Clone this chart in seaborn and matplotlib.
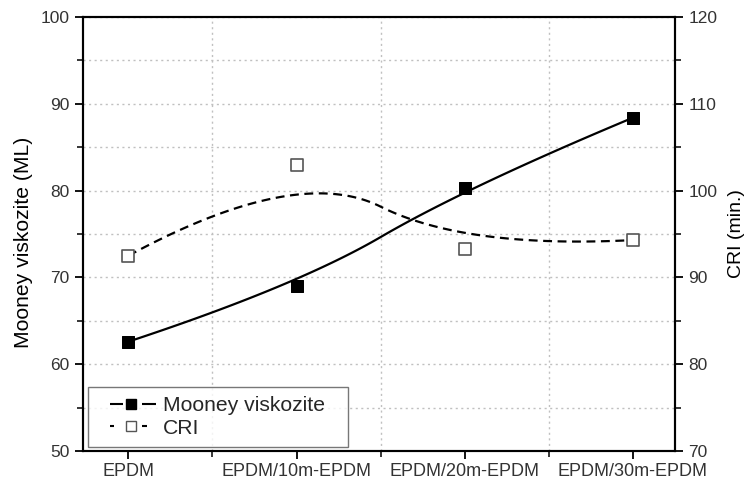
import numpy as np
import pandas as pd
import matplotlib
matplotlib.use("Agg")
import matplotlib.pyplot as plt
from matplotlib.lines import Line2D
from matplotlib.legend_handler import HandlerBase
from matplotlib.ticker import MultipleLocator, FixedLocator
import seaborn as sns

categories = ["EPDM", "EPDM/10m-EPDM", "EPDM/20m-EPDM", "EPDM/30m-EPDM"]
mooney = [62.6, 69.0, 80.3, 88.4]
cri = [92.5, 103.0, 93.3, 94.3]

sns.set_theme(style="white")
plt.rcParams["font.family"] = ["Liberation Sans", "DejaVu Sans"]


def bspline2(xs, ys, n=60):
    """Clamped quadratic B-spline using the data points as control points."""
    P = np.column_stack([xs, ys]).astype(float)
    m = len(P)
    out = []
    for k in range(1, m - 1):
        a = P[0] if k == 1 else (P[k - 1] + P[k]) / 2
        b = P[k]
        c = P[-1] if k == m - 2 else (P[k] + P[k + 1]) / 2
        t = np.linspace(0, 1, n)[:, None]
        out.append((1 - t) ** 2 * a + 2 * t * (1 - t) * b + t ** 2 * c)
    return np.vstack(out)


class SegHandler(HandlerBase):
    def __init__(self, segs, mx, mfc, mec, ms):
        super().__init__()
        self.segs, self.mx, self.mfc, self.mec, self.ms = segs, mx, mfc, mec, ms

    def create_artists(self, legend, orig_handle, xdescent, ydescent, width,
                       height, fontsize, trans):
        y = height / 2 - ydescent
        arts = []
        for a, b in self.segs:
            ln = Line2D([a * width - xdescent, b * width - xdescent], [y, y],
                        color="black", lw=1.5, solid_capstyle="butt")
            ln.set_transform(trans)
            arts.append(ln)
        mk = Line2D([self.mx * width - xdescent], [y], ls="none", marker="s",
                    markersize=self.ms, markerfacecolor=self.mfc,
                    markeredgecolor=self.mec, markeredgewidth=1.0)
        mk.set_transform(trans)
        arts.append(mk)
        return arts


xpos = np.arange(len(categories))
df = pd.DataFrame({"x": xpos, "mooney": mooney, "cri": cri})
cm = bspline2(xpos, mooney)
cc = bspline2(xpos, cri)

fig = plt.figure(figsize=(7.49, 4.90), dpi=100)
ax = fig.add_axes([0.1108, 0.0796, 0.7904, 0.8857])
ax2 = ax.twinx()

sns.lineplot(x=cm[:, 0], y=cm[:, 1], ax=ax, color="black", lw=1.6, sort=False, zorder=3)
sns.scatterplot(data=df, x="x", y="mooney", ax=ax, marker="s", s=80, color="black",
                edgecolor="black", zorder=4)
sns.lineplot(x=cc[:, 0], y=cc[:, 1], ax=ax2, color="black", lw=1.6, sort=False, zorder=3)
ax2.lines[-1].set_dashes([4, 2.5])
sns.scatterplot(data=df, x="x", y="cri", ax=ax2, marker="s", s=80, color="white",
                edgecolor="#555555", linewidth=1.2, zorder=4)

ax.set_xlim(-0.27, 3.25)
ax.set_ylim(50, 100)
ax2.set_ylim(70, 120)

ax.set_xticks(xpos)
ax.set_xticklabels(categories)
ax.xaxis.set_minor_locator(FixedLocator([0.5, 1.5, 2.5]))
ax.yaxis.set_major_locator(MultipleLocator(10))
ax.yaxis.set_minor_locator(MultipleLocator(5))
ax2.yaxis.set_major_locator(MultipleLocator(10))
ax2.yaxis.set_minor_locator(MultipleLocator(5))

for a in (ax, ax2):
    a.tick_params(which="major", direction="out", length=6, width=1.3, labelsize=12.5,
                  colors="black", labelcolor="#333333")
    a.tick_params(which="minor", direction="out", length=4, width=1.3)
    for s in a.spines.values():
        s.set_linewidth(1.5)
        s.set_color("black")
ax.tick_params(axis="x", which="both", bottom=True, top=False)
ax.tick_params(axis="x", labelsize=13, pad=3)
ax.tick_params(axis="y", which="both", left=True)
ax2.tick_params(axis="y", which="both", right=True)

ax.grid(True, which="both", axis="y", linestyle=(0, (1.5, 2.5)), color="#c0c0c0", lw=1)
ax.grid(True, which="minor", axis="x", linestyle=(0, (1.5, 2.5)), color="#c0c0c0", lw=1)
ax.grid(False, which="major", axis="x")
ax.set_axisbelow(True)

ax.set_xlabel("")
ax.set_ylabel("Mooney viskozite (ML)", fontsize=15.2, color="black")
ax.yaxis.set_label_coords(-0.0845, 0.48)
ax2.set_ylabel("CRI (min.)", fontsize=14, color="black")
ax2.yaxis.set_label_coords(1.09, 0.5)

h1 = Line2D([], [])
h2 = Line2D([], [])
leg = ax2.legend([h1, h2], ["Mooney viskozite", "CRI"], loc="lower left",
                 bbox_to_anchor=(0.008, 0.009, 0.439, 0.2), mode="expand",
                 borderaxespad=0, fontsize=15.2, frameon=True,
                 fancybox=False, edgecolor="#555555", handlelength=2.8,
                 borderpad=0.45, labelspacing=0.15, handletextpad=0.3,
                 handler_map={
                     h1: SegHandler([(0.21, 0.43), (0.765, 1.0)], 0.563, "black", "black", 6.5),
                     h2: SegHandler([(0.21, 0.29), (0.765, 0.85)], 0.57, "white", "#555555", 6.5),
                 })
leg.get_frame().set_linewidth(1.0)

fig.savefig("out.png", dpi=100)
